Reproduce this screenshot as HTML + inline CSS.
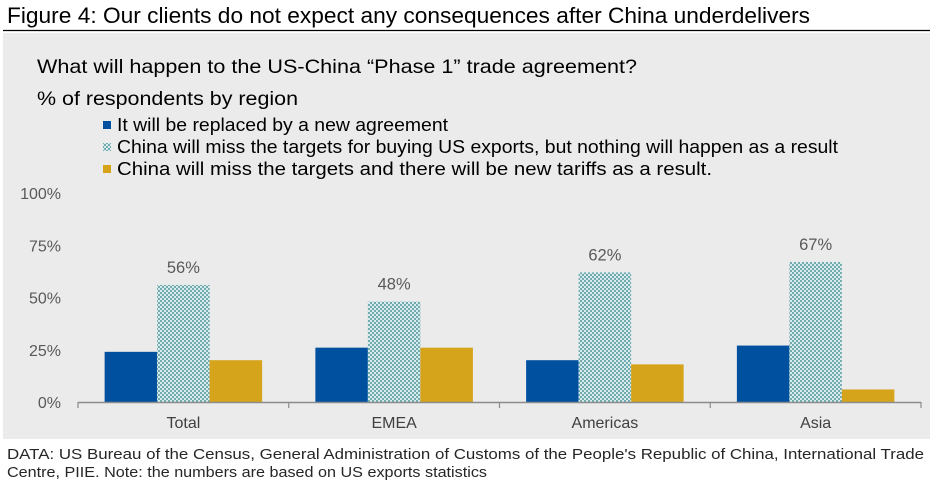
<!DOCTYPE html>
<html><head><meta charset="utf-8">
<style>
html,body{margin:0;padding:0;background:#fff;}
svg{display:block;font-family:"Liberation Sans",Arial,sans-serif;}
</style></head>
<body>
<svg width="936" height="485" viewBox="0 0 936 485">
<defs>
<pattern id="hatch" width="4" height="4" patternUnits="userSpaceOnUse">
<rect width="4" height="4" fill="#d6ebeb"/>
<rect x="0" y="0" width="2" height="2" fill="#72aab0"/>
<rect x="2" y="2" width="2" height="2" fill="#72aab0"/>
</pattern>
</defs>
<text x="7" y="23" font-size="22" fill="#000" textLength="803" lengthAdjust="spacingAndGlyphs">Figure 4: Our clients do not expect any consequences after China underdelivers</text>
<line x1="3" y1="30.5" x2="930" y2="30.5" stroke="#000" stroke-width="1.2"/>
<rect x="3" y="33" width="927" height="406" fill="#ebebeb"/>
<text x="37" y="73" font-size="19.5" fill="#000" textLength="600" lengthAdjust="spacingAndGlyphs">What will happen to the US-China “Phase 1” trade agreement?</text>
<text x="37" y="105" font-size="19.5" fill="#000" textLength="261" lengthAdjust="spacingAndGlyphs">% of respondents by region</text>
<g id="legend"></g>
<g id="yaxis"></g>
<g id="bars"></g>
<g id="xaxis"></g>
<text x="7" y="459" font-size="15" fill="#262626" textLength="917" lengthAdjust="spacingAndGlyphs">DATA: US Bureau of the Census, General Administration of Customs of the People's Republic of China, International Trade</text>
<text x="7" y="477" font-size="15" fill="#262626" textLength="480" lengthAdjust="spacingAndGlyphs">Centre, PIIE. Note: the numbers are based on US exports statistics</text>
</svg>
<script>
const categories = ["Total","EMEA","Americas","Asia"];
const replaced = [24,26,20,27];
const missNothing = [56,48,62,67];
const missTariffs = [20,26,18,6];
const yTicks = [0,25,50,75,100];
const seriesNames = ["It will be replaced by a new agreement","China will miss the targets for buying US exports, but nothing will happen as a result","China will miss the targets and there will be new tariffs as a result."];

const NS="http://www.w3.org/2000/svg";
const y0=402, y100=193, xStart=78, groupW=210.75, barW=52.5;
const legendLens=[331,721,595];
function yScale(v){return y0-(y0-y100)*v/100;}
function groupX(i){return xStart+i*groupW;}
function mk(tag,attrs,parent){const e=document.createElementNS(NS,tag);for(const k in attrs)e.setAttribute(k,attrs[k]);parent.appendChild(e);return e;}

const fills=["#0050a0","url(#hatch)","#d6a41a"];
const seriesData=[replaced,missNothing,missTariffs];

const lg=document.getElementById('legend');
seriesNames.forEach((n,i)=>{
  const cy=125+i*22;
  const r=mk('rect',{x:103,y:cy-4,width:8,height:8,fill:fills[i]},lg);
  
  
  const t=mk('text',{x:117,y:cy+6,'font-size':18,fill:'#000',textLength:legendLens[i],lengthAdjust:'spacingAndGlyphs'},lg);
  t.textContent=n;
  
  
});

const ya=document.getElementById('yaxis');
yTicks.forEach(v=>{
  const t=mk('text',{x:61,y:yScale(v)+6,'font-size':16,fill:'#595959','text-anchor':'end'},ya);
  t.textContent=v+'%';
  
  
});

const bg=document.getElementById('bars');
categories.forEach((c,i)=>{
  const gx=groupX(i)+groupW/2-1.5*barW;
  seriesData.forEach((s,j)=>{
    const v=s[i];
    const r=mk('rect',{x:gx+j*barW,y:yScale(v),width:barW,height:y0-yScale(v),fill:fills[j]},bg);
    
    
  });
  const lx=gx+1.5*barW;
  const t=mk('text',{x:lx,y:yScale(missNothing[i])-12,'font-size':16.5,fill:'#595959','text-anchor':'middle'},bg);
  t.textContent=missNothing[i]+'%';
  
  
});

const xa=document.getElementById('xaxis');
const ax=mk('line',{x1:xStart,y1:y0+0.5,x2:groupX(categories.length),y2:y0+0.5,stroke:'#8c8c8c','stroke-width':1.5},xa);


for(let i=0;i<=categories.length;i++){
  const tk=mk('line',{x1:groupX(i),y1:y0,x2:groupX(i),y2:y0+6,stroke:'#8c8c8c','stroke-width':1.2},xa);
  
  
}
categories.forEach((c,i)=>{
  const t=mk('text',{x:groupX(i)+groupW/2,y:428,'font-size':16,fill:'#404040','text-anchor':'middle'},xa);
  t.textContent=c;
  
  
});
</script>
</body></html>
